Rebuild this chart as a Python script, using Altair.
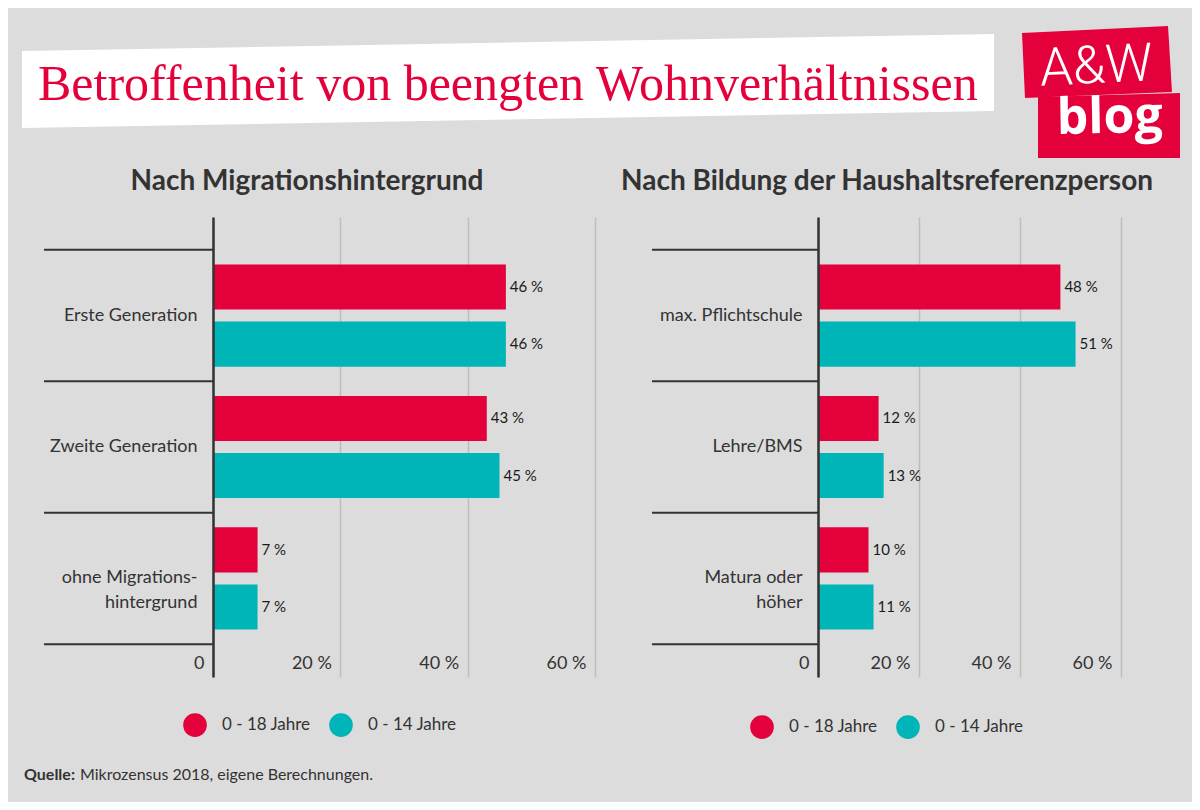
import altair as alt
import pandas as pd

# ---------------- data ----------------
series = ["0 - 18 Jahre", "0 - 14 Jahre"]
colors = ["#e4003b", "#00b5b7"]

mig_categories = ["Erste Generation", "Zweite Generation", "ohne Migrations-|hintergrund"]
mig_18 = [46, 43, 7]
mig_14 = [46, 45, 7]

bild_categories = ["max. Pflichtschule", "Lehre/BMS", "Matura oder|höher"]
bild_18 = [48, 12, 10]
bild_14 = [51, 13, 11]

tick_values = [0, 20, 40, 60]

main_title = "Betroffenheit von beengten Wohnverhältnissen"
panel_titles = ["Nach Migrationshintergrund", "Nach Bildung der Haushaltsreferenzperson"]
source_bold = "Quelle:"
source_text = "Mikrozensus 2018, eigene Berechnungen."
logo_top = "A&W"
logo_bottom = "blog"

FONT = "Lato"
DARK = "#333333"
RED = colors[0]


def panel(cats, v18, v14, title, width, title_x, sep_x, legend_x, legend_y, extra=()):
    df = pd.DataFrame({
        "cat": cats * 2,
        "series": [series[0]] * len(cats) + [series[1]] * len(cats),
        "value": v18 + v14,
    })
    df["label"] = df["value"].astype(str) + " %"

    y = alt.Y("cat:N", sort=cats,
              scale=alt.Scale(paddingInner=0, paddingOuter=0.25),
              axis=alt.Axis(title=None, domain=True, domainColor=DARK, domainWidth=2.5,
                            ticks=False, tickSize=0, labelPadding=16, labelFontSize=18,
                            labelColor=DARK, labelFont=FONT,
                            labelExpr="split(datum.label, '|')", labelLineHeight=25,
                            labelLimit=0, grid=False, zindex=1))
    x = alt.X("value:Q", scale=alt.Scale(domain=[0, 60], nice=False),
              axis=alt.Axis(title=None, values=tick_values, domain=False, ticks=False,
                            grid=True, gridColor="#bdbdbd", gridWidth=1.5,
                            labelExpr="datum.value == 0 ? '0' : datum.value + ' %'",
                            labelAlign="right", labelBaseline="middle", labelPadding=-14,
                            labelOffset=-9, labelFontSize=18, labelColor=DARK, labelFont=FONT,
                            labelFlush=False, labelOverlap=False))
    yoff = alt.YOffset("series:N", sort=series,
                       scale=alt.Scale(paddingInner=0.21, paddingOuter=0.256))

    bars = alt.Chart(df).mark_bar().encode(
        x=x, y=y, yOffset=yoff,
        color=alt.Color("series:N", sort=series,
                        scale=alt.Scale(domain=series, range=colors),
                        legend=alt.Legend(orient="none", legendX=legend_x, legendY=legend_y,
                                          direction="horizontal", title=None,
                                          symbolType="circle", symbolSize=560,
                                          symbolStrokeWidth=0, symbolOpacity=1,
                                          labelFontSize=17, labelColor=DARK, labelFont=FONT,
                                          labelOffset=15, columnPadding=18, padding=0)),
    )
    labels = alt.Chart(df).mark_text(align="left", baseline="middle", dx=4, fontSize=15,
                                     color="#1a1a1a", font=FONT).encode(
        x=x, y=y, yOffset=yoff, text="label:N")

    sep_df = pd.DataFrame({"cat": cats})
    seps = alt.Chart(sep_df).mark_rule(color=DARK, strokeWidth=2).encode(
        y=alt.Y("cat:N", sort=cats, bandPosition=0), x=alt.value(sep_x), x2=alt.value(0))
    sep_last = alt.Chart(pd.DataFrame({"cat": cats[-1:]})).mark_rule(color=DARK, strokeWidth=2).encode(
        y=alt.Y("cat:N", sort=cats, bandPosition=1), x=alt.value(sep_x), x2=alt.value(0))

    ptitle = alt.Chart(pd.DataFrame({"t": [title]})).mark_text(
        font=FONT, fontWeight="bold", fontSize=28, color=DARK, align="center",
        baseline="middle").encode(text="t:N", x=alt.value(title_x), y=alt.value(-35))

    layers = list(extra) + [seps, sep_last, bars, labels, ptitle]
    return alt.layer(*layers).properties(width=width, height=460)


# ---------------- decorations (left panel, pixel offsets from its plot origin) ----------------
canvas = alt.Chart(pd.DataFrame({"a": [0]})).mark_rect(opacity=0).encode(
    x=alt.value(-205), x2=alt.value(979), y=alt.value(-209), y2=alt.value(585))

title_box = alt.Chart(pd.DataFrame({"a": [0]})).mark_point(
    shape="M-1,-0.0617L1,-0.0967L1,0.0617L-1,0.0967Z", filled=True, color="white",
    opacity=1, strokeWidth=0, size=944784).encode(x=alt.value(295), y=alt.value(-136))

title_txt = alt.Chart(pd.DataFrame({"t": [main_title]})).mark_text(
    font="Liberation Serif", fontSize=50, color=RED, align="left",
    baseline="alphabetic").encode(text="t:N", x=alt.value(-175), y=alt.value(-117))

logo_box1 = alt.Chart(pd.DataFrame({"a": [0]})).mark_point(
    shape="M-1,-0.387L0.947,-0.48L1,0.4L-0.96,0.48Z", filled=True, color=RED,
    opacity=1, strokeWidth=0, size=22500).encode(x=alt.value(884), y=alt.value(-155))
logo_box2 = alt.Chart(pd.DataFrame({"a": [0]})).mark_point(
    shape="M-1,-0.408L1,-0.465L1,0.45L-1,0.45Z", filled=True, color=RED,
    opacity=1, strokeWidth=0, size=20164).encode(x=alt.value(896), y=alt.value(-91))
logo_txt1 = alt.Chart(pd.DataFrame({"t": [logo_top]})).mark_text(
    font="Roboto", fontWeight=300, fontSize=53, color="white", align="center",
    baseline="alphabetic", angle=357.3).encode(text="t:N", x=alt.value(884), y=alt.value(-134))
logo_txt2 = alt.Chart(pd.DataFrame({"t": [logo_bottom]})).mark_text(
    font="Open Sans", fontWeight="bold", fontSize=50, color="white", align="center",
    baseline="alphabetic", angle=359).encode(text="t:N", x=alt.value(897), y=alt.value(-84))

src1 = alt.Chart(pd.DataFrame({"t": [source_bold]})).mark_text(
    font=FONT, fontWeight="bold", fontSize=16, color=DARK, align="left",
    baseline="middle").encode(text="t:N", x=alt.value(-189), y=alt.value(558))
src2 = alt.Chart(pd.DataFrame({"t": [source_text]})).mark_text(
    font=FONT, fontSize=16, color=DARK, align="left",
    baseline="middle").encode(text="t:N", x=alt.value(-133), y=alt.value(558))

extras = [canvas, title_box, title_txt, logo_box1, logo_box2, logo_txt1, logo_txt2, src1, src2]

left = panel(mig_categories, mig_18, mig_14, panel_titles[0], 382, 94, -169, -30, 496, extras)
right = panel(bild_categories, bild_18, bild_14, panel_titles[1], 303, 69, -166, -68, 498)

chart = alt.hconcat(left, right, spacing=223, bounds="flush").resolve_scale(
    color="independent", x="independent", y="independent"
).properties(padding=0).configure(background="#dcdcdc", font=FONT).configure_view(stroke=None)

chart.save("out.html", embed_options={"renderer": "svg", "actions": False})
